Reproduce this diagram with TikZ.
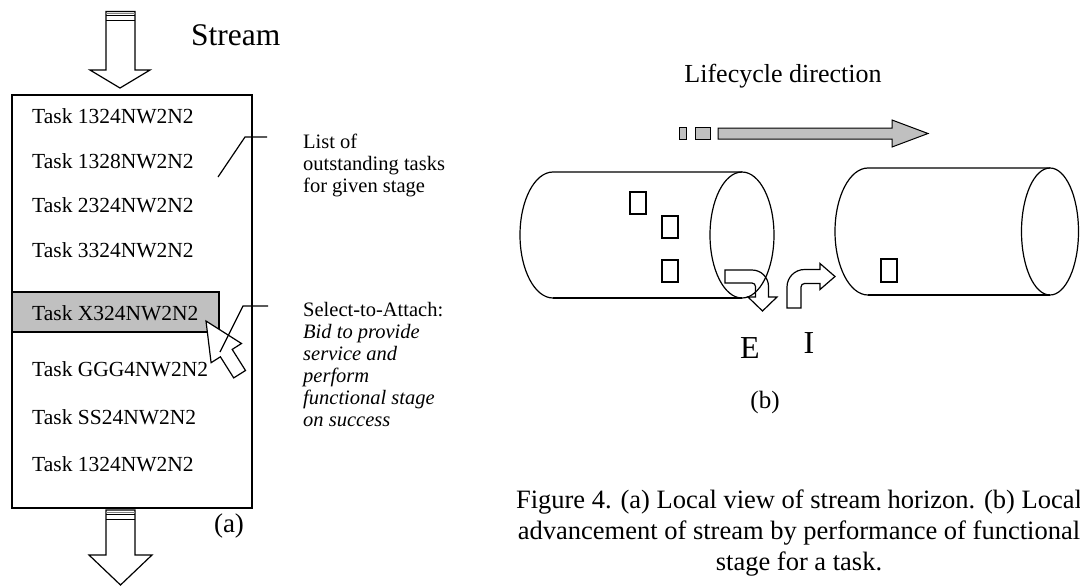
\documentclass[tikz,border=0pt]{standalone}
\usepackage{fontspec}
\setmainfont{Liberation Serif}
\definecolor{boxgray}{HTML}{C0C0C0}
\begin{document}
\begin{tikzpicture}[x=1pt,y=-1pt,
  outl/.style={draw=black, line width=1.2pt, line join=miter},
  thinout/.style={draw=black, line width=1pt},
  tasktxt/.style={anchor=base west, inner sep=0pt, font=\fontsize{21.5}{25}\selectfont},
  side/.style={anchor=base west, inner sep=0pt, font=\fontsize{20.5}{22}\selectfont},
  sideit/.style={anchor=base west, inner sep=0pt, font=\fontsize{20.5}{22}\selectfont\itshape},
  lbl/.style={anchor=base, inner sep=0pt}]
\useasboundingbox (0,0) rectangle (1080,587);
% ---------------- (a) ----------------
% top block arrow
\draw[outl, fill=white] (106,11.5) -- (106,70) -- (90,70) -- (120,88) -- (150,70) -- (135,70) -- (135,11.5) -- cycle;
\draw[gray, line width=0.6pt] (106,13.5) -- (135,13.5);
\draw[thinout] (106,15.5) -- (135,15.5);
\draw[thinout] (106,20) -- (135,20);
\node[anchor=base west, inner sep=0pt, font=\fontsize{31.5}{36}\selectfont] (stream) at (191,45) {Stream};
% list box
\draw[outl] (12,95) rectangle (252,508);
\draw[outl, fill=boxgray] (12,292) rectangle (219,332);
\node[tasktxt] (t1) at (32,123) {Task 1324NW2N2};
\node[tasktxt] (t2) at (32,168) {Task 1328NW2N2};
\node[tasktxt] (t3) at (32,212) {Task 2324NW2N2};
\node[tasktxt] (t4) at (32,257) {Task 3324NW2N2};
\node[tasktxt] (t5) at (32,320) {Task X324NW2N2};
\node[tasktxt] (t6) at (32,376) {Task GGG4NW2N2};
\node[tasktxt] (t7) at (32,424) {Task SS24NW2N2};
\node[tasktxt] (t8) at (32,471) {Task 1324NW2N2};
% cursor arrow
\draw[outl, fill=white] (206,321) -- (241.5,343.5) -- (232.2,349.4) -- (245.5,370.5) -- (233.7,377.9) -- (220.4,356.8) -- (211.1,362.7) -- cycle;
% callouts
\coordinate (ca1) at (218,177); \coordinate (cb1) at (245,137); \coordinate (cc1) at (267,137);
\draw[outl] (ca1) -- (cb1) -- (cc1);
\coordinate (ca2) at (220,352); \coordinate (cb2) at (243,306); \coordinate (cc2) at (268,306);
\draw[outl] (ca2) -- (cb2) -- (cc2);
\node[side] (s1) at (303,148) {List of};
\node[side] (s2) at (303,170) {outstanding tasks};
\node[side] (s3) at (303,192) {for given stage};
\node[side] (u1) at (303,316) {Select-to-Attach:};
\node[sideit] (u2) at (303,338) {Bid to provide};
\node[sideit] (u3) at (303,360) {service and};
\node[sideit] (u4) at (303,382) {perform};
\node[sideit] (u5) at (303,404) {functional stage};
\node[sideit] (u6) at (303,426) {on success};
% bottom block arrow
\draw[outl, fill=white] (106,510) -- (106,555) -- (89,555) -- (120.5,585) -- (152,555) -- (135,555) -- (135,510) -- cycle;
\draw[gray, line width=0.6pt] (106,512) -- (135,512);
\draw[thinout] (106,514) -- (135,514);
\draw[thinout] (106,519) -- (135,519);
\node[lbl, font=\fontsize{27}{30}\selectfont] (la) at (229,532) {(a)};
% ---------------- (b) ----------------
\node[lbl, font=\fontsize{26}{30}\selectfont] (life) at (783,82) {Lifecycle direction};
\draw[thinout, fill=boxgray] (679,127) rectangle (686,139);
\draw[thinout, fill=boxgray] (695,127) rectangle (710,139);
\draw[thinout, fill=boxgray] (718,128) -- (892,128) -- (892,120) -- (928,133.5) -- (892,147) -- (892,139) -- (718,139) -- cycle;
% left cylinder
\draw[outl] (553,298) arc[start angle=90, end angle=270, x radius=33, y radius=63] -- (742,172);
\draw[outl] (553,298) -- (742,298);
\draw[outl] (742,235) ellipse [x radius=32, y radius=63];
% right cylinder
\draw[outl] (868,295) arc[start angle=90, end angle=270, x radius=33, y radius=63.5] -- (1050,168);
\draw[outl] (868,295) -- (1050,295);
\draw[outl] (1050,231.5) ellipse [x radius=28.5, y radius=63.5];
% tasks inside cylinders
\draw[outl] (630,192) rectangle (646,214);
\draw[outl] (662,216) rectangle (678,238);
\draw[outl] (662,260) rectangle (678,282);
\draw[outl] (881,259) rectangle (897,282);
% E arrow
\draw[outl] (725,270) -- (752,270) arc[start angle=270, end angle=360, radius=16.5] -- (768.5,297) -- (777,297) -- (762.5,311) -- (748,297) -- (755.5,297) -- (755.5,286.5) arc[start angle=0, end angle=-90, radius=3.5] -- (725,283) -- cycle;
% I arrow
\draw[outl] (787,308) -- (787,287) arc[start angle=180, end angle=270, radius=17.5] -- (820,269.5) -- (820,263.5) -- (835,276.5) -- (820,289.5) -- (820,283.5) -- (804.5,283.5) arc[start angle=270, end angle=180, radius=3.5] -- (801,308) -- cycle;
\node[lbl, font=\fontsize{32}{36}\selectfont] (le) at (750,358) {E};
\node[lbl, font=\fontsize{32}{36}\selectfont] (li) at (809,353) {I};
\node[lbl, font=\fontsize{25}{28}\selectfont] (lb) at (765,408) {(b)};
% caption
\node[lbl, font=\fontsize{26.5}{30}\selectfont] (cap1) at (799,508) {Figure 4. (a) Local view of stream horizon. (b) Local};
\node[lbl, font=\fontsize{26.5}{30}\selectfont] (cap2) at (799,539) {advancement of stream by performance of functional};
\node[lbl, font=\fontsize{26.5}{30}\selectfont] (cap3) at (799,570) {stage for a task.};
\end{tikzpicture}
\end{document}
